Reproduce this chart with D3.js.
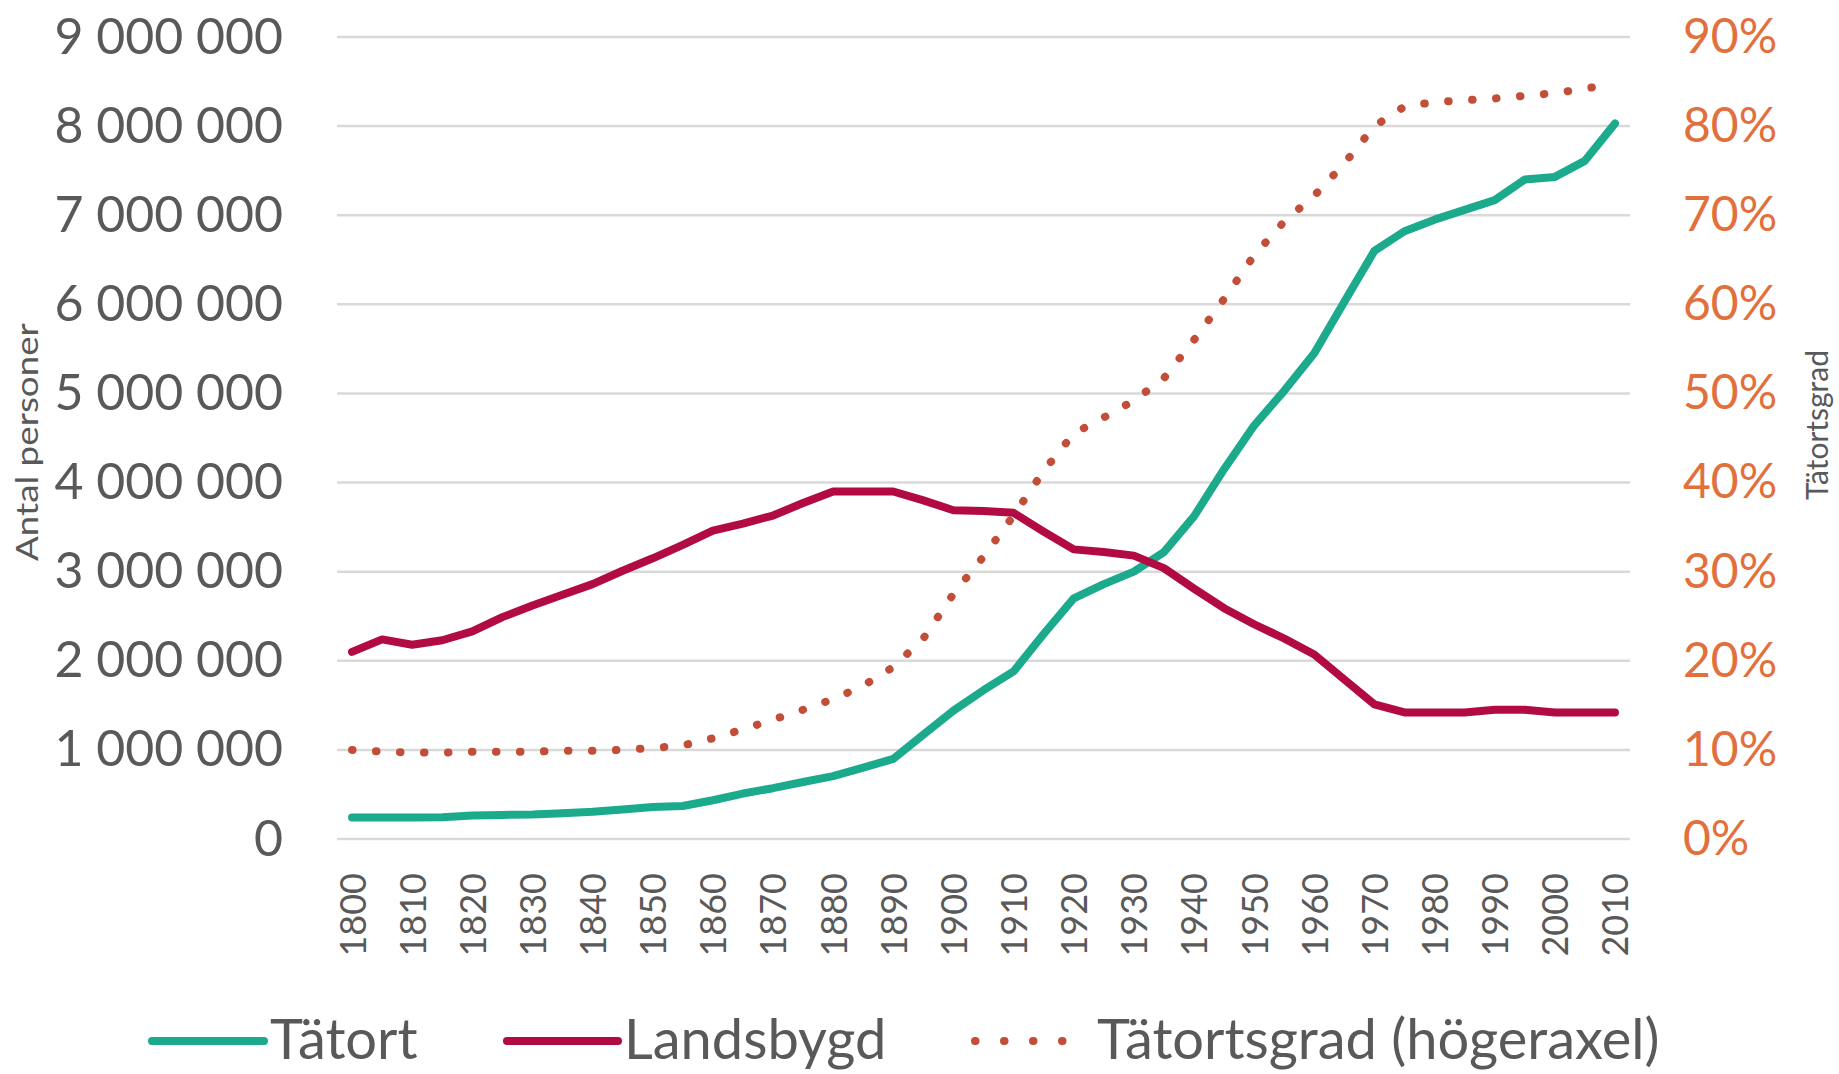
<!DOCTYPE html>
<html>
<head>
<meta charset="utf-8">
<script src="https://cdn.jsdelivr.net/npm/d3@7"></script>
<style>
  html, body { margin: 0; padding: 0; background: #ffffff; }
  svg { display: block; }
  text { font-family: Lato, "Open Sans", sans-serif; }
</style>
</head>
<body>
<svg id="chart" width="1839" height="1074"></svg>
<script>
// ---- Data ----
const years = [1800,1805,1810,1815,1820,1825,1830,1835,1840,1845,1850,1855,1860,1865,1870,1875,1880,1885,1890,1895,
               1900,1905,1910,1915,1920,1925,1930,1935,1940,1945,1950,1955,1960,1965,1970,1975,1980,1985,1990,1995,
               2000,2005,2010];
const labelYears = [1800,1810,1820,1830,1840,1850,1860,1870,1880,1890,1900,1910,1920,1930,1940,1950,1960,1970,1980,1990,2000,2010];

const tatort = [240000,240000,240000,245000,265000,270000,275000,290000,305000,330000,360000,370000,435000,510000,570000,640000,705000,800000,900000,1170000,
                1440000,1670000,1880000,2300000,2700000,2860000,3000000,3220000,3620000,4150000,4640000,5030000,5450000,6030000,6600000,6820000,6950000,7060000,7170000,7400000,
                7430000,7610000,8030000];
const landsbygd = [2100000,2240000,2180000,2230000,2330000,2490000,2620000,2740000,2860000,3010000,3150000,3300000,3460000,3540000,3630000,3770000,3900000,3900000,3900000,3800000,
                   3690000,3680000,3660000,3450000,3250000,3220000,3180000,3040000,2810000,2590000,2410000,2250000,2070000,1790000,1510000,1420000,1420000,1420000,1450000,1450000,
                   1420000,1420000,1420000];
const tatortsgrad = [0.100,0.098,0.097,0.097,0.098,0.098,0.098,0.099,0.099,0.100,0.102,0.105,0.113,0.123,0.134,0.145,0.157,0.172,0.193,0.225,
                     0.275,0.317,0.363,0.413,0.455,0.473,0.492,0.517,0.560,0.606,0.655,0.693,0.722,0.758,0.800,0.822,0.827,0.829,0.831,0.834,
                     0.837,0.842,0.848];
const leftTicks = [0,1000000,2000000,3000000,4000000,5000000,6000000,7000000,8000000,9000000];
const rightTicks = [0,0.1,0.2,0.3,0.4,0.5,0.6,0.7,0.8,0.9];
const seriesNames = ["Tätort", "Landsbygd", "Tätortsgrad (högeraxel)"];
const leftTitle = "Antal personer";
const rightTitle = "Tätortsgrad";

// ---- Layout ----
const plot = { left: 337, right: 1630, top: 37, bottom: 839 };
const colors = { tatort: "#1BAA8C", landsbygd: "#B20A42", grad: "#C24E38", gradAxis: "#E2703C", text: "#595959", grid: "#D9D9D9" };

const svg = d3.select("#chart");

const x = d3.scalePoint().domain(years).range([plot.left, plot.right]).padding(0.5);
const yL = d3.scaleLinear().domain([0, 9000000]).range([plot.bottom, plot.top]);
const yR = d3.scaleLinear().domain([0, 0.9]).range([plot.bottom, plot.top]);

const sv = d3.formatLocale({ decimal: ",", thousands: " ", grouping: [3], currency: ["", ""] });
const fmtNum = sv.format(",");
const fmtPct = d3.format(".0%");

// Gridlines
svg.append("g")
  .selectAll("line")
  .data(leftTicks)
  .join("line")
  .attr("x1", plot.left).attr("x2", plot.right)
  .attr("y1", d => yL(d)).attr("y2", d => yL(d))
  .attr("stroke", colors.grid).attr("stroke-width", 2.5);

// Left axis
const gL = svg.append("g").attr("transform", `translate(${plot.left},0)`)
  .call(d3.axisLeft(yL).tickValues(leftTicks).tickFormat(fmtNum).tickSize(0).tickPadding(54));
gL.select(".domain").remove();
gL.selectAll("text").attr("font-family", "Lato").attr("font-size", 50).attr("fill", colors.text);

// Right axis
const gR = svg.append("g").attr("transform", `translate(${plot.right},0)`)
  .call(d3.axisRight(yR).tickValues(rightTicks).tickFormat(fmtPct).tickSize(0).tickPadding(53));
gR.select(".domain").remove();
gR.selectAll("text").attr("font-family", "Lato").attr("font-size", 48).attr("fill", colors.gradAxis);

// Bottom axis
const gB = svg.append("g").attr("transform", `translate(0,${plot.bottom})`)
  .call(d3.axisBottom(x).tickValues(labelYears).tickSize(0).tickPadding(0));
gB.select(".domain").remove();
gB.selectAll("text")
  .attr("font-family", "Lato").attr("font-size", 36).attr("fill", colors.text)
  .attr("transform", "rotate(-90)")
  .attr("text-anchor", "end")
  .attr("x", -34).attr("y", 0).attr("dy", "0.36em");

// Axis titles
svg.append("text")
  .attr("transform", "translate(38,442) rotate(-90)")
  .attr("text-anchor", "middle")
  .attr("font-size", 30).attr("fill", colors.text)
  .attr("textLength", 238).attr("lengthAdjust", "spacingAndGlyphs")
  .text(leftTitle);
svg.append("text")
  .attr("transform", "translate(1828,425) rotate(-90)")
  .attr("text-anchor", "middle")
  .attr("font-size", 30).attr("fill", colors.text)
  .text(rightTitle);

// Lines
const lineL = d3.line().x((d, i) => x(years[i])).y(d => yL(d));
const lineR = d3.line().x((d, i) => x(years[i])).y(d => yR(d));

svg.append("path").datum(tatort)
  .attr("d", lineL).attr("fill", "none")
  .attr("stroke", colors.tatort).attr("stroke-width", 8)
  .attr("stroke-linejoin", "round").attr("stroke-linecap", "round");
svg.append("path").datum(landsbygd)
  .attr("d", lineL).attr("fill", "none")
  .attr("stroke", colors.landsbygd).attr("stroke-width", 8)
  .attr("stroke-linejoin", "round").attr("stroke-linecap", "round");
svg.append("path").datum(tatortsgrad)
  .attr("d", lineR).attr("fill", "none")
  .attr("stroke", colors.grad).attr("stroke-width", 8)
  .attr("stroke-linecap", "round").attr("stroke-dasharray", "0.5 23.5");

// Legend
const legendY = 1041;
const legend = [
  { name: seriesNames[0], x1: 152, x2: 264, color: colors.tatort, dash: null, w: 8 },
  { name: seriesNames[1], x1: 507, x2: 618, color: colors.landsbygd, dash: null, w: 8 },
  { name: seriesNames[2], x1: 975, x2: 1091, color: colors.grad, dash: "0.5 28.5", w: 8 }
];
const lg = svg.append("g").selectAll("g").data(legend).join("g");
lg.append("line")
  .attr("x1", d => d.x1).attr("x2", d => d.x2)
  .attr("y1", legendY).attr("y2", legendY)
  .attr("stroke", d => d.color).attr("stroke-width", d => d.w)
  .attr("stroke-linecap", "round")
  .attr("stroke-dasharray", d => d.dash);
lg.append("text")
  .attr("x", d => d.x2 + 6).attr("y", legendY).attr("dy", "0.33em")
  .attr("font-size", 56).attr("fill", colors.text)
  .text(d => d.name);
</script>
</body>
</html>
